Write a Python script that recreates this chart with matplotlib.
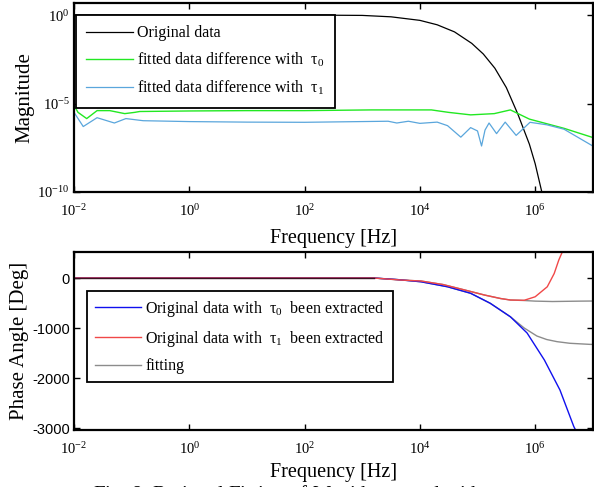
import numpy as np
import matplotlib
matplotlib.use("Agg")
import matplotlib.pyplot as plt

plt.rcParams["mathtext.fontset"] = "custom"
plt.rcParams["mathtext.rm"] = "Liberation Serif"
plt.rcParams["mathtext.it"] = "Liberation Serif:italic"

# ---- magnitude data (log10 f, log10 |H|) ----
orig_logf = [-2, 2, 3, 3.5, 4, 4.3, 4.6, 4.9, 5.1, 5.3, 5.5, 5.7, 5.9, 6.0, 6.13, 6.2]
orig_logmag = [0, 0, -0.02, -0.1, -0.3, -0.55, -0.95, -1.6, -2.2, -3.0, -4.1, -5.6, -7.3, -8.4, -10.2, -11.0]

fit0_logf = [-2, -1.93, -1.78, -1.6, -1.38, -1.12, -0.95, -0.86, 0, 1, 2, 3.16, 4.2, 4.5,
             4.88, 5.29, 5.57, 5.9, 6.5, 7.0]
fit0_logmag = [-5.11, -5.5, -5.85, -5.4, -5.4, -5.57, -5.5, -5.45, -5.42, -5.4, -5.4, -5.36,
               -5.36, -5.5, -5.64, -5.57, -5.36, -5.88, -6.4, -6.92]

fit1_logf = [-2, -1.84, -1.6, -1.3, -1.1, -0.8, 0, 1, 2, 3.45, 3.6, 3.8, 4.0, 4.3, 4.48,
             4.71, 4.88, 5.0, 5.07, 5.13, 5.2, 5.33, 5.48, 5.67, 5.91, 6.2, 6.5, 7.0]
fit1_logmag = [-5.5, -6.3, -5.8, -6.1, -5.85, -5.97, -6.02, -6.05, -6.06, -6.0, -6.1, -6.0,
               -6.12, -6.05, -6.25, -6.9, -6.36, -6.55, -7.4, -6.5, -6.1, -6.7, -6.05, -6.8,
               -6.06, -6.2, -6.45, -7.4]

# ---- phase data (log10 f, degrees) ----
tau0_logf = [-2, 3.2, 3.6, 4.02, 4.48, 4.88, 5.22, 5.57, 5.86, 6.16, 6.43, 6.67, 6.75]
tau0_phase = [0, 0, -30, -75, -175, -305, -505, -775, -1100, -1640, -2240, -2970, -3150]

tau1_logf = [-2, 3.2, 3.67, 4.02, 4.4, 4.78, 5.12, 5.4, 5.57, 5.81, 6.0, 6.21, 6.33, 6.41, 6.5]
tau1_phase = [0, 0, -40, -60, -130, -240, -340, -410, -440, -445, -375, -175, 90, 360, 600]

fitA_logf = [-2, 3.2, 3.67, 4.02, 4.4, 4.78, 5.12, 5.4, 5.57, 5.81, 6.0, 6.3, 6.6, 6.8, 7.0]
fitA_phase = [0, 0, -40, -60, -130, -240, -340, -410, -440, -450, -462, -470, -465, -462, -460]

fitB_logf = [-2, 3.2, 3.6, 4.02, 4.48, 4.88, 5.22, 5.57, 5.81, 6.03, 6.2, 6.38, 6.6, 6.95, 7.0]
fitB_phase = [0, 0, -30, -75, -175, -305, -505, -775, -1000, -1160, -1230, -1273, -1305, -1327, -1328]

xticks = [1e-2, 1e0, 1e2, 1e4, 1e6]
xticklabels = ["$10^{-2}$", "$10^{0}$", "$10^{2}$", "$10^{4}$", "$10^{6}$"]

SERIF = "Liberation Serif"
SANS = "Liberation Sans"


def p10(v):
    return 10.0 ** np.asarray(v, dtype=float)


def style_axes(ax):
    for s in ax.spines.values():
        s.set_linewidth(1.6)
        s.set_color("black")
    ax.tick_params(which="major", direction="in", length=4, width=1.0,
                   top=True, right=True, labelsize=10.5)
    ax.tick_params(axis="x", which="major", pad=8)
    ax.tick_params(axis="y", which="major", pad=3)
    ax.tick_params(which="minor", length=0)
    for lab in ax.get_xticklabels() + ax.get_yticklabels():
        lab.set_fontfamily(SANS)


def make_legend(ax, anchor, pad):
    leg = ax.legend(loc="upper left", bbox_to_anchor=anchor, borderaxespad=0,
                    prop={"family": SERIF, "size": 11.5}, frameon=True, fancybox=False,
                    edgecolor="black", framealpha=1, handlelength=2.9, handletextpad=0.25,
                    labelspacing=0.6, borderpad=pad)
    leg.get_frame().set_linewidth(1.3)
    return leg


fig = plt.figure(figsize=(5.94, 4.87), dpi=100)

# ---------------- magnitude ----------------
ax1 = fig.add_axes([0.1246, 0.6057, 0.8734, 0.3881])
ax1.plot(p10(orig_logf), p10(orig_logmag), color="black", lw=0.9, label="Original data")
ax1.plot(p10(fit0_logf), p10(fit0_logmag), color="#22e822", lw=1.0,
         label="fitted data difference with  τ$_0$")
ax1.plot(p10(fit1_logf), p10(fit1_logmag), color="#5aa6dc", lw=0.9,
         label="fitted data difference with  τ$_1$")
ax1.set_xscale("log")
ax1.set_yscale("log")
ax1.set_xlim(1e-2, 1e7)
ax1.set_ylim(1e-10, 10 ** 0.68)
ax1.set_xticks(xticks)
ax1.set_xticklabels(xticklabels)
ax1.set_yticks([1e-10, 1e-5, 1e0])
ax1.set_yticklabels(["$10^{-10}$", "$10^{-5}$", "$10^{0}$"])
style_axes(ax1)
ax1.set_xlabel("Frequency [Hz]", fontfamily=SERIF, fontsize=14.5, labelpad=7)
ax1.set_ylabel("Magnitude", fontfamily=SERIF, fontsize=15, labelpad=2)
make_legend(ax1, (0.004, 0.937), 0.65)

# ---------------- phase ----------------
ax2 = fig.add_axes([0.1246, 0.117, 0.8734, 0.3655])
ax2.plot(p10(fitA_logf), fitA_phase, color="#8c8c8c", lw=1.0)
ax2.plot(p10(fitB_logf), fitB_phase, color="#8c8c8c", lw=1.0)
ax2.plot(p10(tau0_logf), tau0_phase, color="#1010ee", lw=1.0,
         label="Original data with  τ$_0$  been extracted")
ax2.plot(p10(tau1_logf), tau1_phase, color="#f04848", lw=1.0,
         label="Original data with  τ$_1$  been extracted")
# shared low-frequency segment where both curves coincide
ax2.plot(p10(tau1_logf[:2]), tau1_phase[:2], color="#3a1020", lw=1.0)
ax2.plot([], [], color="#8c8c8c", lw=1.0, label="fitting")
ax2.set_xscale("log")
ax2.set_xlim(1e-2, 1e7)
ax2.set_ylim(-3040, 520)
ax2.set_xticks(xticks)
ax2.set_xticklabels(xticklabels)
ax2.set_yticks([-3000, -2000, -1000, 0])
ax2.set_yticklabels(["-3000", "-2000", "-1000", "0"])
style_axes(ax2)
ax2.set_xlabel("Frequency [Hz]", fontfamily=SERIF, fontsize=14.5, labelpad=4)
ax2.set_ylabel("Phase Angle [Deg]", fontfamily=SERIF, fontsize=15, labelpad=2)
make_legend(ax2, (0.025, 0.781), 0.5)

fig.text(0.1566, -0.026, "Fig. 8. Rational Fitting of $\\mathit{W}$ with  τ$_0$  and with  τ$_1$  terms",
         ha="left", va="baseline", fontfamily=SERIF, fontsize=15)

fig.savefig("out.png", dpi=100)
